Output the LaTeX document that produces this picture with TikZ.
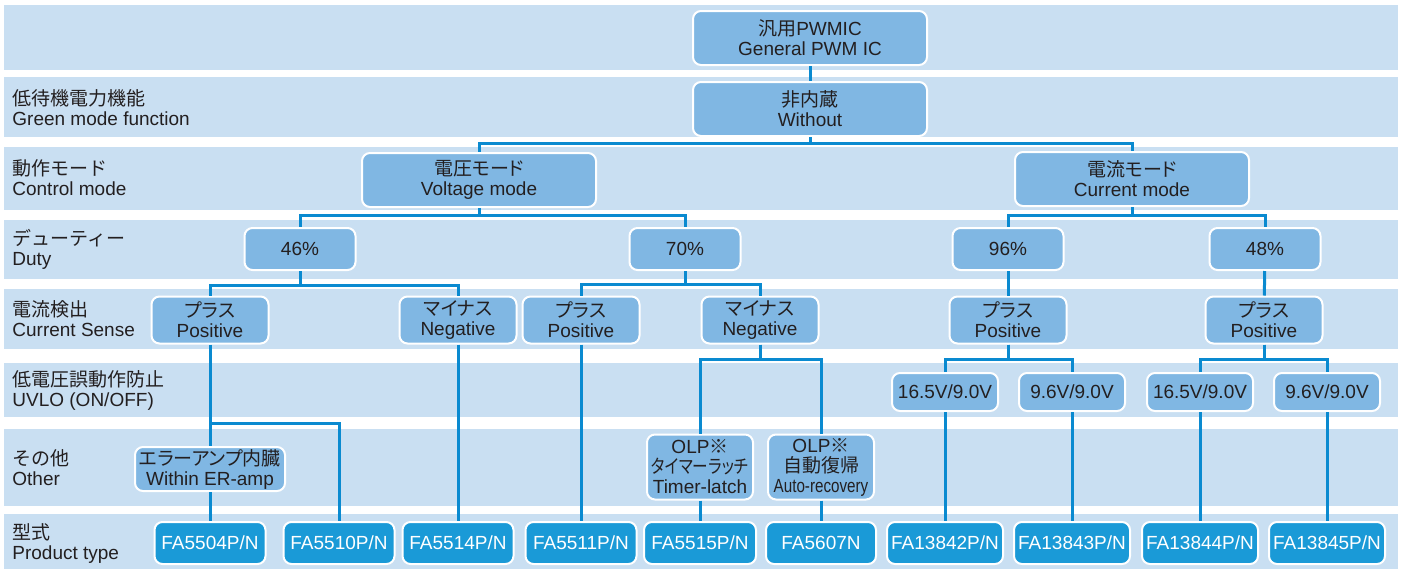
\documentclass[tikz,border=0pt]{standalone}
\usepackage{fontspec}
\setmainfont{Liberation Sans}
\newfontfamily\jp{Noto Sans CJK JP}
\newfontfamily\jpn[RawFeature={+palt}]{Noto Sans CJK JP}
\usetikzlibrary{positioning, backgrounds}
\definecolor{bandblue}{HTML}{C9DFF2}
\definecolor{nodeblue}{HTML}{80B7E3}
\definecolor{prodblue}{HTML}{1A9AD7}
\definecolor{linkblue}{HTML}{0A8AD0}
\definecolor{inkgray}{HTML}{231F20}
\tikzset{
    catbox/.style={
        rectangle,
        rounded corners=4pt,
        draw=white,
        line width=1pt,
        fill=nodeblue,
        inner sep=0pt,
        align=center, % baris ganda
        text=inkgray
    },
    prodbox/.style={
        rectangle,
        rounded corners=4pt,
        draw=white,
        line width=1pt,
        fill=prodblue,
        inner sep=0pt,
        minimum height=21pt,
        align=center,
        text=white
    },
    bandlabel/.style={
        anchor=west,
        inner sep=0pt,
        align=left,
        text=inkgray
    },
    link/.style={
        draw=linkblue,
        line width=1.5pt
    }
}

\begin{document}
\begin{tikzpicture}[
    x=0.5pt, y=-0.5pt,
    every node/.style={font=\fontsize{9.5}{10}\selectfont},
    wide/.style={catbox, minimum width=117pt, minimum height=27pt},
    duty/.style={catbox, minimum width=55.5pt, minimum height=21pt},
    sense/.style={catbox, minimum width=58.5pt, minimum height=23.5pt},
    uvlo/.style={catbox, minimum width=53pt, minimum height=19pt}
]
\useasboundingbox (0,0) rectangle (1404,569);

% Background bands
\foreach \top/\bot in {5/70, 77/137, 147/210, 220/279, 289/349, 363/417, 429/506, 514/569}
    \fill[bandblue] (4,\top) rectangle (1398,\bot);

% Row labels
\node[bandlabel] (lblgreen) at (12,108) {{\jp 低待機電力機能}\\Green mode function};
\node[bandlabel] (lblctrl) at (12,178) {{\jp 動作モード}\\Control mode};
\node[bandlabel] (lblduty) at (12,249) {{\jp デューティー}\\Duty};
\node[bandlabel] (lblsense) at (12,319) {{\jp 電流検出}\\Current Sense};
\node[bandlabel] (lbluvlo) at (12,390) {{\jp 低電圧誤動作防止}\\UVLO (ON/OFF)};
\node[bandlabel] (lblother) at (12,468) {{\jp その他}\\Other};
\node[bandlabel] (lbltype) at (12,544) {{\jp 型式}\\Product type};

% Tree levels
\node[wide] (gen) at (810,38) {{\jpn 汎用}PWMIC\\General PWM IC};
\node[wide] (wo) at (810,109) {{\jpn 非内蔵}\\Without};
\node[wide] (volt) at (479,180) {{\jpn 電圧モード}\\Voltage mode};
\node[wide] (curr) at (1132,179) {{\jpn 電流モード}\\Current mode};

\node[duty] (d46) at (300,249) {46\%};
\node[duty] (d70) at (685,249) {70\%};
\node[duty] (d96) at (1008,249) {96\%};
\node[duty] (d48) at (1265,249) {48\%};

\node[sense] (pos1) at (210,320) {{\jpn プラス}\\Positive};
\node[sense] (neg1) at (458,320) {{\jpn マイナス}\\Negative};
\node[sense] (pos2) at (581,320) {{\jpn プラス}\\Positive};
\node[sense] (neg2) at (760,320) {{\jpn マイナス}\\Negative};
\node[sense] (pos3) at (1008,320) {{\jpn プラス}\\Positive};
\node[sense] (pos4) at (1264,320) {{\jpn プラス}\\Positive};

\node[uvlo] (u1) at (945,392) {16.5V/9.0V};
\node[uvlo] (u2) at (1072,392) {9.6V/9.0V};
\node[uvlo] (u3) at (1200,392) {16.5V/9.0V};
\node[uvlo] (u4) at (1327,392) {9.6V/9.0V};

\node[catbox, minimum width=75pt, minimum height=22pt] (er) at (210,469) {{\jpn エラーアンプ内臓}\\Within ER-amp};
\node[catbox, minimum width=53pt, minimum height=32.5pt] (olp1) at (700,467) {OLP{\jpn ※}\\\scalebox{0.82}[1]{\jpn タイマーラッチ}\\Timer-latch};
\node[catbox, minimum width=53pt, minimum height=32.5pt] (olp2) at (821,467) {OLP{\jpn ※}\\{\jpn 自動復帰}\\\scalebox{0.8}[1]{Auto-recovery}};

% Product types
\node[prodbox, minimum width=55.5pt] (p1) at (210,543) {FA5504P/N};
\node[prodbox, minimum width=55.5pt] (p2) at (339,543) {FA5510P/N};
\node[prodbox, minimum width=55.5pt] (p3) at (458,543) {FA5514P/N};
\node[prodbox, minimum width=55.5pt] (p4) at (581,543) {FA5511P/N};
\node[prodbox, minimum width=56pt] (p5) at (700,543) {FA5515P/N};
\node[prodbox, minimum width=55pt] (p6) at (821,543) {FA5607N};
\node[prodbox, minimum width=58pt] (p7) at (945,543) {FA13842P/N};
\node[prodbox, minimum width=58pt] (p8) at (1072,543) {FA13843P/N};
\node[prodbox, minimum width=58pt] (p9) at (1200,543) {FA13844P/N};
\node[prodbox, minimum width=58pt] (p10) at (1327,543) {FA13845P/N};

% Connectors
\draw[link] (gen) -- (wo);
\draw[link] (wo.south) -- ++(0,6) -| (volt.north);
\draw[link] (wo.south) -- ++(0,6) -| (curr.north);
\draw[link] (volt.south) -- ++(0,7) -| (d46.north);
\draw[link] (volt.south) -- ++(0,7) -| (d70.north);
\draw[link] (curr.south) -- ++(0,8) -| (d96.north);
\draw[link] (curr.south) -- ++(0,8) -| (d48.north);
\draw[link] (d46.south) -- ++(0,14) -| (pos1.north);
\draw[link] (d46.south) -- ++(0,14) -| (neg1.north);
\draw[link] (d70.south) -- ++(0,13) -| (pos2.north);
\draw[link] (d70.south) -- ++(0,13) -| (neg2.north);
\draw[link] (d96) -- (pos3);
\draw[link] (d48) -- (pos4);
\draw[link] (pos3.south) -- ++(0,14.5) -| (u1.north);
\draw[link] (pos3.south) -- ++(0,14.5) -| (u2.north);
\draw[link] (pos4.south) -- ++(0,14.5) -| (u3.north);
\draw[link] (pos4.south) -- ++(0,14.5) -| (u4.north);
\draw[link] (neg2.south) -- ++(0,14.5) -| (olp1.north);
\draw[link] (neg2.south) -- ++(0,14.5) -| (olp2.north);
\coordinate (split46) at (210,423);
\draw[link] (pos1) -- (er);
\draw[link] (split46) -| (p2.north);
\draw[link] (er) -- (p1);
\draw[link] (neg1) -- (p3);
\draw[link] (pos2) -- (p4);
\draw[link] (olp1) -- (p5);
\draw[link] (olp2) -- (p6);
\draw[link] (u1) -- (p7);
\draw[link] (u2) -- (p8);
\draw[link] (u3) -- (p9);
\draw[link] (u4) -- (p10);

\end{tikzpicture}
\end{document}
